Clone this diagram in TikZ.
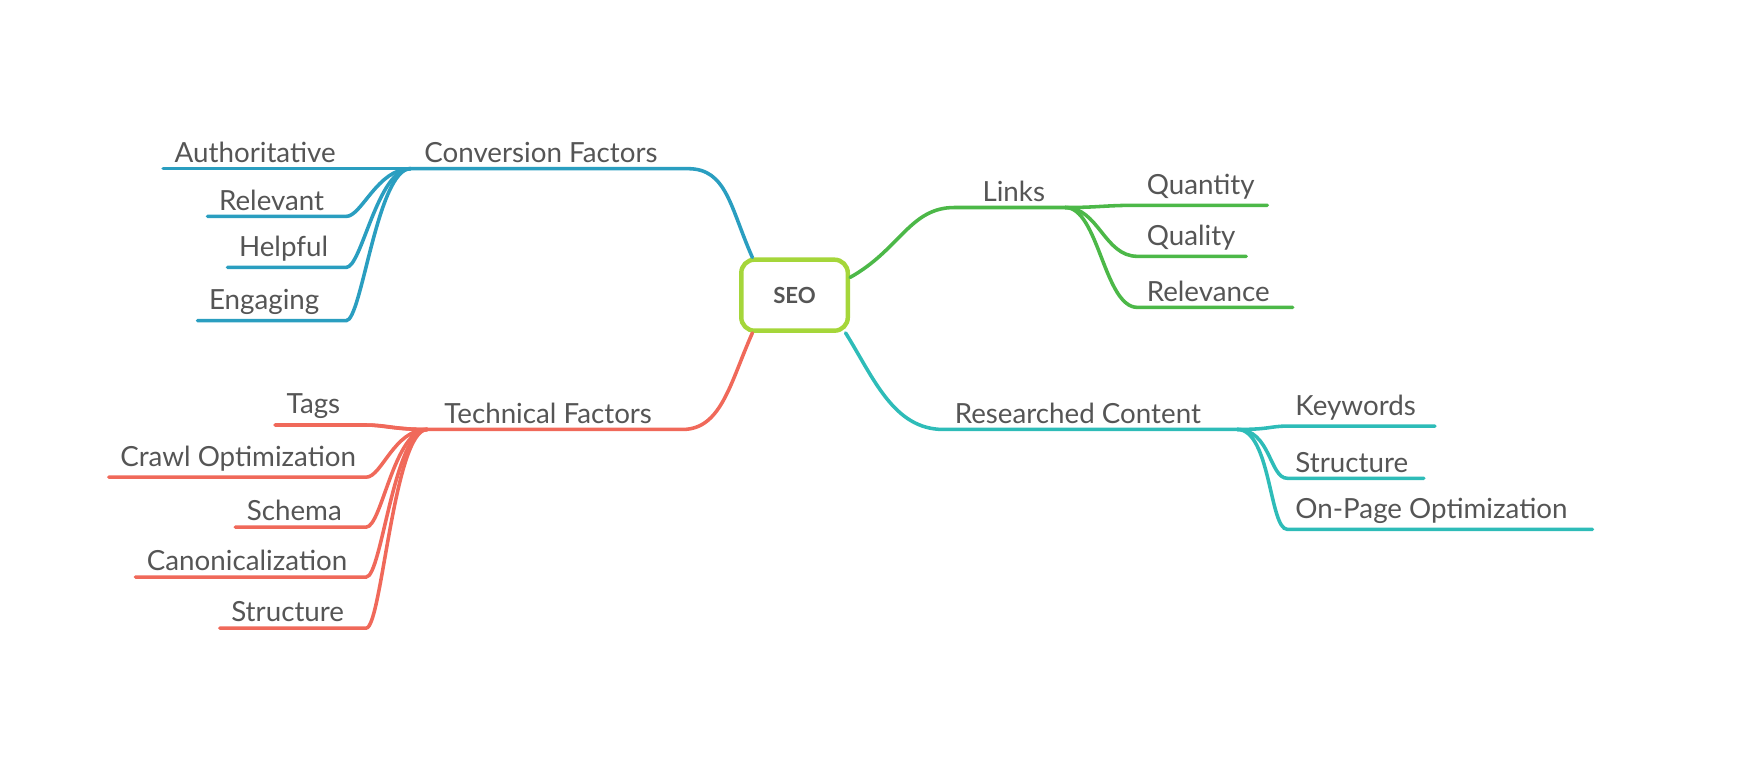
\documentclass[tikz,border=0pt]{standalone}
\usepackage{fontspec}
\setmainfont{Lato}
\begin{document}
\definecolor{cb}{HTML}{2A9EC0}
\definecolor{cr}{HTML}{F0695A}
\definecolor{cg}{HTML}{4CB848}
\definecolor{ct}{HTML}{2EBCB8}
\definecolor{cl}{HTML}{A5D63A}
\definecolor{tx}{HTML}{555555}
\begin{tikzpicture}[x=0.5pt,y=-0.5pt,
  lab/.style={anchor=south west,inner sep=1pt,text=tx,font=\fontsize{12.5}{14}\selectfont},
  br/.style={line width=1.6pt,line cap=round}]
\useasboundingbox (0,0) rectangle (1568,690);
\node[draw=cl,line width=2pt,rounded corners=6pt,minimum width=48pt,minimum height=32pt,text=tx,font=\bfseries\fontsize{10}{12}\selectfont] (seo) at (716,266) {SEO};
% Conversion
\coordinate (cH) at (370,152);
\draw[br,cb] (seo.north west)++(12,0) coordinate(c0) .. controls +(-20,-45) and +(35,0) .. (620,152) -- (cH);
\node[lab] (cf) at (380,149) {Conversion Factors};
\foreach \n/\t/\y/\s in {a/Authoritative/152/147,b/Relevant/195/187,c/Helpful/241/205,d/Engaging/289/178}{
  \coordinate (c\n) at (\s,\y);
  \draw[br,cb] (cH) .. controls +(-30,0) and +(14,0) .. (312,\y) -- (c\n);
  \node[lab] at (\s+8,\y-3) {\t};}
% Technical
\coordinate (tH) at (385,387);
\draw[br,cr] (seo.south west)++(12,0) .. controls +(-20,45) and +(35,0) .. (615,387) -- (tH);
\node[lab] (tf) at (398,384) {Technical Factors};
\foreach \n/\t/\y/\s in {a/Tags/383/248,b/Crawl Optimization/430/98,c/Schema/475/212,d/Canonicalization/520/122,e/Structure/566/198}{
  \coordinate (t\n) at (\s,\y);
  \draw[br,cr] (tH) .. controls +(-30,0) and +(14,0) .. (330,\y) -- (t\n);
  \node[lab] at (\s+8,\y-3) {\t};}
\draw[br,cr] (tH) .. controls +(-30,0) and +(20,0) .. (330,383) -- (248,383);
% Links
\coordinate (lH) at (960,187);
\draw[br,cg] (seo.east)++(0,-16) .. controls +(45,-25) and +(-40,0) .. (860,187) -- (lH);
\node[lab] (lf) at (883,184) {Links};
\foreach \n/\t/\y/\e in {a/Quantity/185/1142,b/Quality/231/1123,c/Relevance/277/1165}{
  \coordinate (l\n) at (\e,\y);
  \draw[br,cg] (lH) .. controls +(30,0) and +(-30,0) .. (1025,\y) -- (l\n);
  \node[lab] at (1031,\y-3) {\t};}
% Researched
\coordinate (rH) at (1115,387);
\draw[br,ct] (seo.south east)++(-4,0) .. controls +(25,40) and +(-45,0) .. (850,387) -- (rH);
\node[lab] (rf) at (858,384) {Researched Content};
\foreach \n/\t/\y/\e in {a/Keywords/384/1293,b/Structure/431/1283,c/On-Page Optimization/477/1435}{
  \coordinate (r\n) at (\e,\y);
  \draw[br,ct] (rH) .. controls +(30,0) and +(-16,0) .. (1160,\y) -- (r\n);
  \node[lab] at (1165,\y-3) {\t};}
\end{tikzpicture}
\end{document}
